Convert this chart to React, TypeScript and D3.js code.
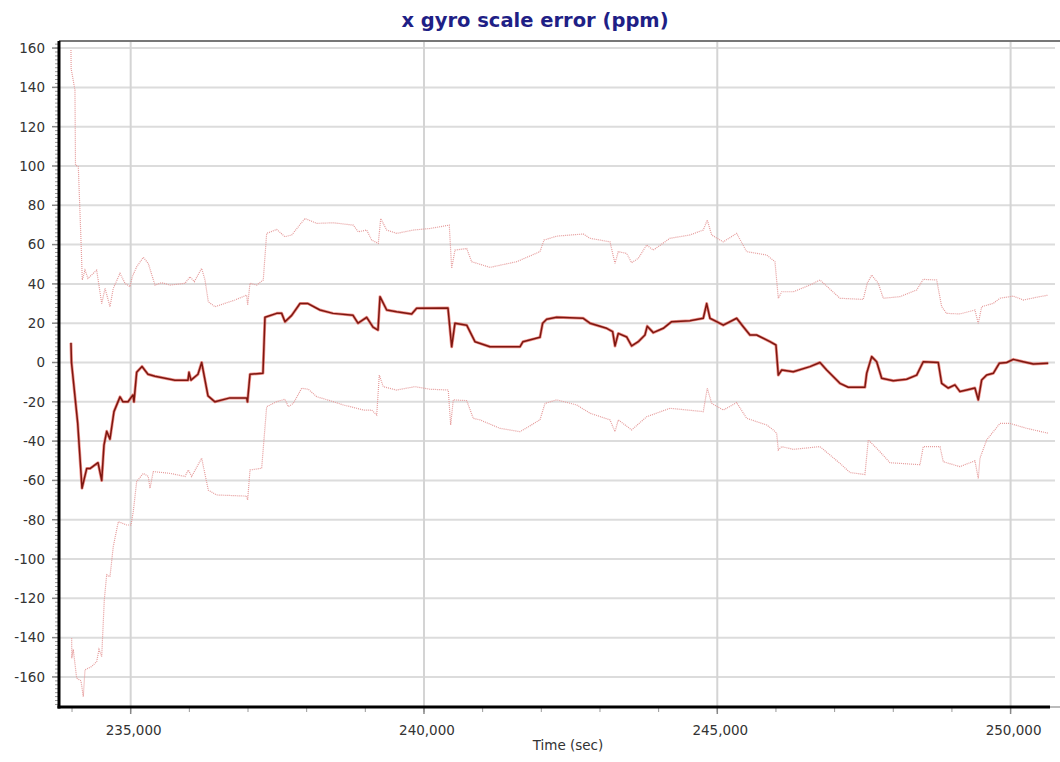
import React from "react";
import * as d3 from "d3";

// ---- data ----
const titleText = "x gyro scale error (ppm)";
const xAxisTitle = "Time (sec)";
const yTicks = [160, 140, 120, 100, 80, 60, 40, 20, 0, -20, -40, -60, -80, -100, -120, -140, -160];
const xTicks = [235000, 240000, 245000, 250000];

const mainTime = [233982, 233991, 234097, 234170, 234250, 234306, 234443, 234506, 234545, 234591, 234647, 234715, 234818, 234869, 234954, 235039, 235056, 235102, 235193, 235295, 235414, 235755, 235977, 235994, 236028, 236147, 236210, 236318, 236437, 236693, 236977, 236991, 237034, 237255, 237289, 237489, 237574, 237630, 237745, 237886, 238022, 238227, 238449, 238790, 238875, 239023, 239131, 239216, 239250, 239364, 239534, 239790, 239875, 240409, 240472, 240528, 240728, 240869, 241125, 241636, 241687, 241977, 242023, 242091, 242262, 242715, 242830, 243114, 243216, 243256, 243312, 243455, 243540, 243653, 243767, 243806, 243909, 244079, 244222, 244534, 244761, 244819, 244875, 244989, 245102, 245330, 245443, 245557, 245671, 245898, 246000, 246040, 246098, 246295, 246580, 246750, 246865, 247091, 247233, 247517, 247547, 247632, 247717, 247802, 248000, 248228, 248399, 248511, 248767, 248825, 248937, 249051, 249137, 249251, 249392, 249449, 249507, 249592, 249705, 249807, 249933, 250046, 250216, 250387, 250642];
const mainValue = [10, 0, -31, -64, -54, -54, -51, -60, -42, -35, -39, -25, -17.5, -20, -20, -16.5, -20, -5, -2, -6, -7, -9, -9, -5, -9, -6, 0, -17, -20, -18, -18, -20, -6, -5.5, 23, 25, 25, 20.7, 24, 30, 30, 26.7, 25, 24, 20, 23, 18, 16.5, 33.5, 26.7, 25.8, 24.7, 27.6, 27.7, 8, 20, 19, 10.6, 8, 8, 10.6, 12.8, 20, 22, 23, 22.5, 20, 17.4, 15.7, 8.4, 14.8, 13, 8.4, 10.6, 14, 18.5, 15.2, 17.4, 20.8, 21.3, 22.5, 30, 22.5, 20.8, 19, 22.5, 18.2, 14, 14, 10.6, 8.9, -6.4, -3.8, -4.7, -2.1, 0, -3.8, -10.6, -12.6, -12.6, -5.5, 3, 0.4, -8, -9.3, -8.5, -6.4, 0.4, 0, -10.6, -13, -11.4, -14.8, -14, -13, -19, -8.9, -6.4, -5.5, -0.4, 0, 1.6, 0.4, -0.8, -0.4];

const upperTime = [233982, 233985, 234050, 234059, 234107, 234153, 234175, 234221, 234272, 234420, 234506, 234563, 234647, 234703, 234818, 234903, 234988, 235027, 235102, 235215, 235300, 235414, 235528, 235670, 235926, 236011, 236084, 236210, 236267, 236323, 236437, 236778, 236977, 236994, 237034, 237148, 237260, 237318, 237489, 237630, 237745, 237971, 238171, 238454, 238795, 238880, 239023, 239108, 239221, 239262, 239364, 239534, 239817, 240102, 240431, 240472, 240528, 240728, 240813, 241125, 241580, 241977, 242046, 242262, 242715, 242830, 243171, 243256, 243312, 243455, 243540, 243653, 243796, 243909, 244193, 244534, 244761, 244829, 244904, 245102, 245330, 245501, 245842, 245983, 246040, 246098, 246295, 246580, 246750, 247091, 247488, 247556, 247632, 247744, 247830, 248114, 248399, 248511, 248740, 248825, 248910, 249137, 249392, 249449, 249507, 249705, 249819, 250046, 250216, 250444, 250642];
const upperValue = [159, 149.6, 138.6, 100.5, 99.6, 62, 42, 47, 42.8, 47, 30, 37.7, 28.4, 37.7, 45.4, 40.3, 38.6, 43.6, 48.7, 53.5, 50.4, 39.4, 40.6, 39.4, 40.3, 43.6, 41.1, 47.9, 42, 30.9, 28.4, 31.8, 34.3, 29.2, 40.3, 39.4, 42, 65.7, 67.7, 64, 64.9, 73.3, 70.8, 71.1, 69.9, 66.5, 67.4, 62.3, 60.6, 73.3, 67.4, 65.7, 67.4, 68.2, 69.9, 47.9, 57.2, 58, 51.3, 48.4, 51.3, 56.4, 62.3, 64.3, 65.4, 63.2, 61.4, 50.4, 56.4, 55.5, 50.8, 53, 59.8, 57.2, 63.2, 64.9, 67.4, 72.5, 64.9, 61.4, 65.7, 56.4, 54.7, 51.3, 32.7, 36, 36, 39.4, 42, 32.7, 32.1, 40.3, 44.5, 40.3, 32.7, 33.5, 36.9, 42.3, 42, 28.4, 25, 24.7, 26.7, 19.9, 28.4, 30.1, 32.7, 33.8, 31.8, 33.2, 34.3];

const lowerTime = [233994, 233996, 234021, 234079, 234153, 234192, 234221, 234335, 234420, 234460, 234506, 234550, 234591, 234647, 234703, 234789, 234932, 235005, 235044, 235102, 235215, 235300, 235329, 235385, 235670, 235926, 235982, 236040, 236210, 236323, 236466, 236977, 236994, 237034, 237233, 237272, 237318, 237489, 237630, 237687, 237772, 237915, 238028, 238171, 238398, 238624, 238853, 238965, 239108, 239194, 239238, 239306, 239534, 239846, 240102, 240414, 240455, 240499, 240728, 240840, 240955, 241295, 241636, 241977, 242063, 242262, 242603, 242830, 243171, 243256, 243312, 243540, 243796, 244193, 244761, 244829, 244904, 245102, 245330, 245501, 245842, 245955, 246012, 246040, 246098, 246295, 246750, 247091, 247262, 247517, 247574, 247744, 247944, 248455, 248511, 248796, 248853, 249137, 249392, 249449, 249478, 249592, 249819, 249989, 250274, 250642];
const lowerValue = [-140.3, -150.5, -146, -160.6, -162, -170, -156.4, -154.7, -152.2, -146, -149.6, -120.8, -108, -109, -93.7, -81, -82.7, -82.7, -75.9, -60.6, -56.4, -58, -64, -55.5, -56.4, -58, -54.7, -58, -48.7, -64.9, -67.4, -68, -70, -54.7, -53.8, -39.4, -22.5, -19.9, -18.7, -22.5, -20.8, -13.1, -13.6, -17.4, -19.4, -21.6, -23.3, -24.2, -24.2, -26.7, -6.4, -12.3, -14, -12.3, -13.6, -14, -31.8, -19, -19.4, -28.4, -29.2, -33.5, -35.2, -29.2, -20.8, -19, -21.6, -25.8, -29.2, -35.2, -29.2, -34.3, -27.6, -23.3, -25, -13.1, -20.8, -24.2, -20.4, -28.4, -31.8, -34.3, -36, -44.5, -42.8, -44.2, -42.8, -51.3, -56, -57, -39.4, -44.5, -51, -52, -42.8, -42.8, -50.5, -53, -50, -59, -48.7, -39.4, -31, -31, -33.5, -36];

// ---- layout ----
const W = 1060;
const H = 762;
const left = 59;
const right = 1055;
const top = 41;
const bottom = 707;

export default function App() {
  const x = d3.scaleLinear().domain([233778, 250757]).range([left, right]);
  const y = d3.scaleLinear().domain([-175.3, 163.6]).range([bottom, top]);

  const toPts = (ts: number[], vs: number[]) => ts.map((t, i) => [t, vs[i]] as [number, number]);
  const line = d3
    .line<[number, number]>()
    .x((d) => x(d[0]))
    .y((d) => y(d[1]));

  const mainPath = line(toPts(mainTime, mainValue)) || "";
  const upperPath = line(toPts(upperTime, upperValue)) || "";
  const lowerPath = line(toPts(lowerTime, lowerValue)) || "";

  const yMinor = d3.range(-174, 164, 2);
  const xMinor = d3.range(234000, 250757, 1000);
  const fmt = d3.format(",");
  const font = "'DejaVu Sans', Verdana, sans-serif";

  return (
    <div style={{ position: "absolute", left: 0, top: 0 }}>
      <svg width={W} height={H} style={{ display: "block", background: "#fff" }}>
        <defs>
          <clipPath id="plotclip">
            <rect x={left} y={top} width={right - left} height={bottom - top} />
          </clipPath>
        </defs>
        {/* title */}
        <text x={535} y={27} textAnchor="middle" fontFamily={font} fontWeight="bold" fontSize={19.5} fill="#1f1f86">
          {titleText}
        </text>

        {/* horizontal gridlines */}
        {yTicks.map((v) => (
          <line key={"gy" + v} x1={left} x2={right} y1={y(v)} y2={y(v)} stroke="#dcdcdc" strokeWidth={2} />
        ))}
        {/* vertical gridlines */}
        {xTicks.map((v) => (
          <line key={"gx" + v} x1={x(v)} x2={x(v)} y1={top} y2={bottom} stroke="#d4d4d4" strokeWidth={2} />
        ))}

        {/* series */}
        <g clipPath="url(#plotclip)">
          <path d={upperPath} fill="none" stroke="#e59a9a" strokeWidth={1.2} strokeDasharray="1,1" />
          <path d={lowerPath} fill="none" stroke="#e59a9a" strokeWidth={1.2} strokeDasharray="1,1" />
          <path d={mainPath} fill="none" stroke="#e23a30" strokeOpacity={0.55} strokeWidth={3} strokeLinejoin="round" />
          <path d={mainPath} fill="none" stroke="#7d1710" strokeWidth={1.5} strokeLinejoin="round" />
        </g>

        {/* top border */}
        <line x1={left} x2={W} y1={top} y2={top} stroke="#777" strokeWidth={2} />

        {/* y axis */}
        {yMinor.map((v) => (
          <line key={"ym" + v} x1={left - 4} x2={left} y1={y(v)} y2={y(v)} stroke="#999" strokeWidth={1} />
        ))}
        {yTicks.map((v) => (
          <g key={"yt" + v}>
            <line x1={left - 7} x2={left} y1={y(v)} y2={y(v)} stroke="#888" strokeWidth={1.5} />
            <text x={45} y={y(v)} dy="0.36em" textAnchor="end" fontFamily={font} fontSize={13.5} fill="#333">
              {v}
            </text>
          </g>
        ))}
        <line x1={left} x2={left} y1={top} y2={bottom + 1.5} stroke="#000" strokeWidth={3} />

        {/* x axis */}
        {xMinor.map((v) => (
          <line key={"xm" + v} x1={x(v)} x2={x(v)} y1={bottom} y2={bottom + 5} stroke="#999" strokeWidth={1} />
        ))}
        {xTicks.map((v) => (
          <g key={"xt" + v}>
            <line x1={x(v)} x2={x(v)} y1={bottom} y2={bottom + 7} stroke="#888" strokeWidth={1.5} />
            <text x={x(v) + 3} y={735} textAnchor="middle" fontFamily={font} fontSize={13.5} fill="#333">
              {fmt(v)}
            </text>
          </g>
        ))}
        <line x1={left - 1.5} x2={1050} y1={bottom} y2={bottom} stroke="#000" strokeWidth={3} />
        <line x1={1050} x2={W} y1={bottom} y2={bottom} stroke="#bbb" strokeWidth={2} />

        <text x={568} y={750} textAnchor="middle" fontFamily={font} fontSize={13.5} fill="#333">
          {xAxisTitle}
        </text>
      </svg>
    </div>
  );
}
